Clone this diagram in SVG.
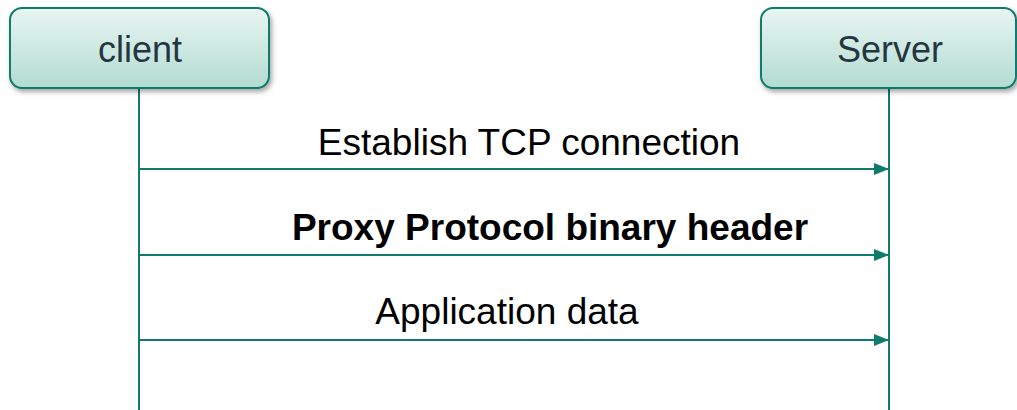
<svg xmlns="http://www.w3.org/2000/svg" width="1017" height="410" viewBox="0 0 1017 410">
<style>
.box{fill:url(#g);stroke:#0f7b6c;stroke-width:2;filter:url(#sh)}
.life{stroke:#0f7b6c;stroke-width:2;fill:none}
.msg{stroke:#0f7b6c;stroke-width:2;fill:none;marker-end:url(#ah)}
.lbl{font-family:"Liberation Sans",Arial,sans-serif;font-size:36px;fill:#253641;text-anchor:middle}
.txt{font-family:"Liberation Sans",Arial,sans-serif;font-size:37px;fill:#000;text-anchor:middle}
</style>
<defs>
<linearGradient id="g" x1="0" y1="0" x2="0" y2="1">
<stop offset="0" stop-color="#e9f5f2"/>
<stop offset="1" stop-color="#b2dcd2"/>
</linearGradient>
<filter id="sh" x="-10%" y="-10%" width="120%" height="140%">
<feDropShadow dx="2" dy="3" stdDeviation="2.5" flood-color="#000" flood-opacity="0.35"/>
</filter>
<marker id="ah" markerWidth="15" markerHeight="12" refX="15" refY="6" orient="auto" markerUnits="userSpaceOnUse">
<path d="M0,0 L15,6 L0,12 Z" fill="#0f7b6c"/>
</marker>
</defs>
<g id="connectors">
<line class="life" x1="139" y1="88" x2="139" y2="410"/>
<line class="life" x1="889" y1="88" x2="889" y2="410"/>
<line class="msg" x1="139" y1="169" x2="889" y2="169"/>
<line class="msg" x1="139" y1="255" x2="889" y2="255"/>
<line class="msg" x1="139" y1="340" x2="889" y2="340"/>
<text class="txt" x="529" y="155">Establish TCP connection</text>
<text class="txt" x="550" y="240" font-weight="bold">Proxy Protocol binary header</text>
<text class="txt" x="507" y="324">Application data</text>
</g>
<g id="client">
<rect class="box" x="10" y="8" width="259" height="80" rx="12"/>
<text class="lbl" x="140" y="62">client</text>
</g>
<g id="server">
<rect class="box" x="761" y="8" width="255" height="80" rx="12"/>
<text class="lbl" x="890" y="62">Server</text>
</g>
</svg>
